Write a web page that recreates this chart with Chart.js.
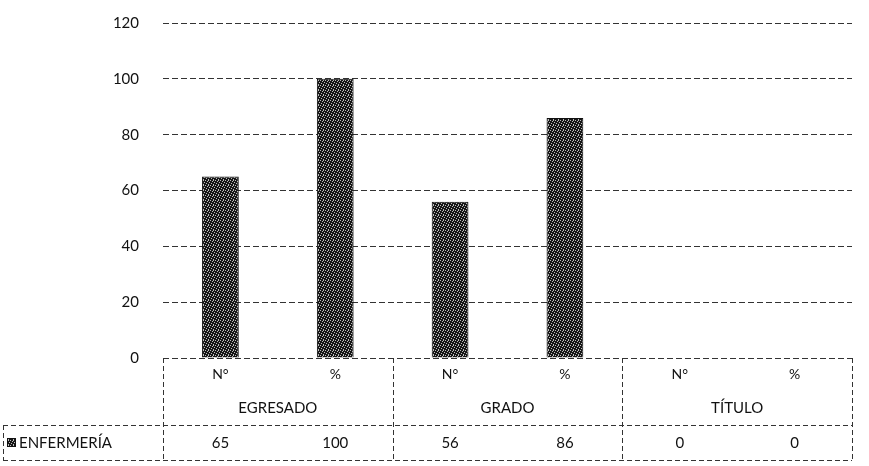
<!DOCTYPE html>
<html>
<head>
<meta charset="utf-8">
<script src="https://cdn.jsdelivr.net/npm/chart.js@4"></script>
<style>
html, body { margin: 0; padding: 0; background: #fff; }
#wrap { width: 869px; height: 466px; position: relative; }
</style>
</head>
<body>
<div id="wrap"><canvas id="chart"></canvas></div>
<script>
var categories = ['N°', '%', 'N°', '%', 'N°', '%'];
var groups = ['EGRESADO', 'GRADO', 'TÍTULO'];
var seriesName = 'ENFERMERÍA';
var values = [65, 100, 56, 86, 0, 0];
var yTicks = [0, 20, 40, 60, 80, 100, 120];

var FONT = 'Lato, "Open Sans", sans-serif';

// dark speckled fill like the scanned bars
function makePattern(ctx) {
    var c = document.createElement('canvas');
    c.width = 5; c.height = 5;
    var g = c.getContext('2d');
    g.fillStyle = '#161616';
    g.fillRect(0, 0, 5, 5);
    g.fillStyle = '#bdbdbd';
    [[0, 0], [2, 1], [4, 2], [1, 3], [3, 4], [3, 0]].forEach(function (p) {
        g.fillRect(p[0], p[1], 1, 1);
    });
    return ctx.createPattern(c, 'repeat');
}

// data table under the plot
var tablePlugin = {
    id: 'dataTable',
    afterDraw: function (chart) {
        var ctx = chart.ctx;
        var area = chart.chartArea;
        var x = chart.scales.x;
        var top = area.bottom;
        var midY = 425;
        var botY = 460;
        var leftX = 3;
        var step = x.getPixelForValue(1) - x.getPixelForValue(0);
        var start = x.getPixelForValue(0) - step / 2;

        ctx.save();
        ctx.strokeStyle = '#333';
        ctx.lineWidth = 1;
        ctx.setLineDash([5, 3]);

        // group dividers
        for (var i = 0; i <= groups.length; i++) {
            var gx = Math.round(start + i * step * 2) + 0.5;
            ctx.beginPath();
            ctx.moveTo(gx, top);
            ctx.lineTo(gx, botY);
            ctx.stroke();
        }
        // horizontal lines
        ctx.beginPath();
        ctx.moveTo(leftX, midY + 0.5);
        ctx.lineTo(area.right, midY + 0.5);
        ctx.moveTo(leftX, botY + 0.5);
        ctx.lineTo(area.right, botY + 0.5);
        ctx.moveTo(leftX + 0.5, midY);
        ctx.lineTo(leftX + 0.5, botY);
        ctx.stroke();
        ctx.setLineDash([]);

        ctx.fillStyle = '#111';
        ctx.font = '15px ' + FONT;
        ctx.textAlign = 'center';
        ctx.textBaseline = 'middle';
        groups.forEach(function (name, i) {
            var cx = start + (i * 2 + 1) * step;
            ctx.fillText(name, cx, 408);
        });
        values.forEach(function (v, i) {
            ctx.fillText(String(v), x.getPixelForValue(i), 443);
        });

        // legend key + series name
        ctx.fillStyle = makePattern(ctx);
        ctx.fillRect(7, 438, 9, 9);
        ctx.strokeStyle = '#111';
        ctx.strokeRect(7.5, 438.5, 8, 8);
        ctx.fillStyle = '#111';
        ctx.textAlign = 'left';
        ctx.fillText(seriesName, 19, 443);
        ctx.restore();
    }
};

document.addEventListener('DOMContentLoaded', function () {
    var ctx = document.getElementById('chart').getContext('2d');
    var chart = new Chart(ctx, {
        type: 'bar',
        data: {
            labels: categories,
            datasets: [{
                label: seriesName,
                data: values,
                backgroundColor: makePattern(ctx),
                borderColor: '#111',
                borderWidth: 1,
                categoryPercentage: 1,
                barPercentage: 0.32
            }]
        },
        options: {
            responsive: true,
            maintainAspectRatio: false,
            animation: false,
            layout: {
                padding: { left: 0, right: 17, top: 23, bottom: 6 }
            },
            plugins: {
                legend: { display: false },
                tooltip: { enabled: false }
            },
            scales: {
                x: {
                    grid: { display: false },
                    border: { display: false },
                    ticks: {
                        color: '#111',
                        font: { family: FONT, size: 14 },
                        padding: 0
                    },
                    afterFit: function (scale) { scale.height = 102; }
                },
                y: {
                    min: 0,
                    max: 120,
                    afterBuildTicks: function (scale) {
                        scale.ticks = yTicks.map(function (v) { return { value: v }; });
                    },
                    grid: {
                        color: '#333',
                        lineWidth: 1,
                        drawTicks: false
                    },
                    border: { display: false, dash: [6, 3] },
                    ticks: {
                        color: '#111',
                        font: { family: FONT, size: 15 },
                        padding: 24
                    },
                    afterFit: function (scale) {
                        scale.width = 163;
                        scale.paddingTop = 10;
                        scale.paddingBottom = 10;
                    }
                }
            }
        },
        plugins: [tablePlugin]
    });
});
</script>
</body>
</html>
